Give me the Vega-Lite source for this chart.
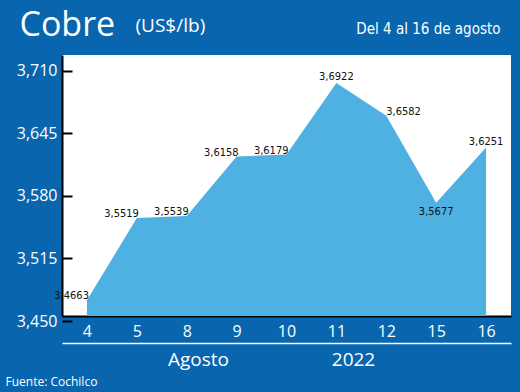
{
  "$schema": "https://vega.github.io/schema/vega-lite/v6.json",
  "width": 449,
  "height": 261,
  "autosize": {"type": "none"},
  "padding": {"left": 62, "top": 55, "right": 9, "bottom": 76},
  "background": "#0965ad",
  "config": {
    "view": {"fill": "white", "stroke": null},
    "locale": {"number": {"decimal": ",", "thousands": ".", "grouping": [3], "currency": ["", " US$"]}}
  },
  "data": {
    "values": [
      {"dia": 4, "precio": 3.4663},
      {"dia": 5, "precio": 3.5519},
      {"dia": 8, "precio": 3.5539},
      {"dia": 9, "precio": 3.6158},
      {"dia": 10, "precio": 3.6179},
      {"dia": 11, "precio": 3.6922},
      {"dia": 12, "precio": 3.6582},
      {"dia": 15, "precio": 3.5677},
      {"dia": 16, "precio": 3.6251}
    ]
  },
  "resolve": {"axis": {"x": "independent", "y": "independent"}},
  "layer": [
    {
      "mark": {"type": "area", "color": "#4fb0e2", "interpolate": "linear", "opacity": 1, "clip": true},
      "encoding": {
        "x": {
          "field": "dia", "type": "ordinal",
          "scale": {"type": "point", "padding": 0.5},
          "axis": {
            "orient": "bottom", "labelAngle": 0, "labelColor": "white", "labelFont": "Open Sans",
            "labelFontSize": 16, "labelBaseline": "alphabetic", "labelPadding": 20, "ticks": false,
            "domainColor": "black", "domainWidth": 2, "grid": false,
            "title": "Agosto", "titleColor": "white", "titleFont": "Open Sans", "titleFontSize": 19,
            "titleFontWeight": "normal", "titleX": 136, "titleY": 49, "titleAlign": "center",
            "titleBaseline": "alphabetic"
          }
        },
        "y": {
          "field": "precio", "type": "quantitative",
          "scale": {"domain": [3.45, 3.7214], "zero": false, "nice": false},
          "axis": {
            "orient": "left", "values": [3.45, 3.515, 3.58, 3.645, 3.71], "format": ".3f",
            "tickOffset": 5, "tickSize": -10, "tickColor": "black", "tickWidth": 2,
            "labelPadding": 15, "labelColor": "white", "labelFontSize": 16, "labelFont": "Open Sans",
            "labelFlush": false, "labelOverlap": false,
            "domainColor": "black", "domainWidth": 2, "grid": false,
            "title": "(US$/lb)", "titleAngle": 0, "titleX": 73, "titleY": -24, "titleAlign": "left",
            "titleBaseline": "alphabetic", "titleColor": "white", "titleFont": "Open Sans",
            "titleFontSize": 19, "titleFontWeight": "normal"
          }
        }
      }
    },
    {
      "transform": [{"filter": {"field": "dia", "oneOf": [4, 5, 8, 9, 10]}}],
      "mark": {"type": "text", "align": "right", "baseline": "alphabetic", "dy": -1, "dx": 2,
               "font": "DejaVu Sans Condensed, Liberation Sans Narrow, Roboto Condensed, Roboto", "fontSize": 11, "color": "#111111"},
      "encoding": {
        "x": {
          "field": "dia", "type": "ordinal",
          "axis": {
            "orient": "top", "offset": -288, "domainColor": "white", "domainWidth": 1.5,
            "labels": false, "ticks": false, "grid": false,
            "title": "2022", "titleX": 291, "titleY": 22, "titleAlign": "center", "titleBaseline": "alphabetic",
            "titleColor": "white", "titleFont": "Open Sans", "titleFontSize": 19, "titleFontWeight": "normal"
          }
        },
        "y": {
          "field": "precio", "type": "quantitative",
          "axis": {
            "orient": "right", "domain": false, "labels": false, "ticks": false, "grid": false,
            "title": "Del 4 al 16 de agosto", "titleAngle": 0, "titleX": -11, "titleY": -22,
            "titleAlign": "right", "titleBaseline": "alphabetic", "titleColor": "white",
            "titleFont": "DejaVu Sans Condensed, Liberation Sans Narrow, Roboto Condensed, Roboto", "titleFontSize": 15, "titleFontWeight": "normal"
          }
        },
        "text": {"field": "precio", "type": "quantitative", "format": ".4f"}
      }
    },
    {
      "transform": [{"filter": {"field": "dia", "oneOf": [11, 16]}}],
      "mark": {"type": "text", "align": "center", "baseline": "alphabetic", "dy": -3,
               "font": "DejaVu Sans Condensed, Liberation Sans Narrow, Roboto Condensed, Roboto", "fontSize": 11, "color": "#111111"},
      "encoding": {
        "x": {"field": "dia", "type": "ordinal", "axis": null},
        "y": {
          "field": "precio", "type": "quantitative",
          "axis": {
            "orient": "left", "domain": false, "labels": false, "ticks": false, "grid": false,
            "title": "Cobre", "titleAngle": 0, "titleX": -43, "titleY": -20,
            "titleAlign": "left", "titleBaseline": "alphabetic", "titleColor": "white",
            "titleFont": "Open Sans", "titleFontSize": 34, "titleFontWeight": "normal"
          }
        },
        "text": {"field": "precio", "type": "quantitative", "format": ".4f"}
      }
    },
    {
      "transform": [{"filter": {"field": "dia", "oneOf": [12]}}],
      "mark": {"type": "text", "align": "left", "baseline": "alphabetic", "dy": -1,
               "font": "DejaVu Sans Condensed, Liberation Sans Narrow, Roboto Condensed, Roboto", "fontSize": 11, "color": "#111111"},
      "encoding": {
        "x": {"field": "dia", "type": "ordinal", "axis": null},
        "y": {
          "field": "precio", "type": "quantitative",
          "axis": {
            "orient": "right", "domain": false, "labels": false, "ticks": false, "grid": false,
            "title": "Fuente: Cochilco", "titleAngle": 0, "titleX": -506, "titleY": 330,
            "titleAlign": "left", "titleBaseline": "alphabetic", "titleColor": "white",
            "titleFont": "Open Sans", "titleFontSize": 12, "titleFontWeight": "normal"
          }
        },
        "text": {"field": "precio", "type": "quantitative", "format": ".4f"}
      }
    },
    {
      "transform": [{"filter": {"field": "dia", "oneOf": [15]}}],
      "mark": {"type": "text", "align": "center", "baseline": "top", "dy": 3,
               "font": "DejaVu Sans Condensed, Liberation Sans Narrow, Roboto Condensed, Roboto", "fontSize": 11, "color": "#111111"},
      "encoding": {
        "x": {"field": "dia", "type": "ordinal", "axis": null},
        "y": {"field": "precio", "type": "quantitative", "axis": null},
        "text": {"field": "precio", "type": "quantitative", "format": ".4f"}
      }
    }
  ]
}
